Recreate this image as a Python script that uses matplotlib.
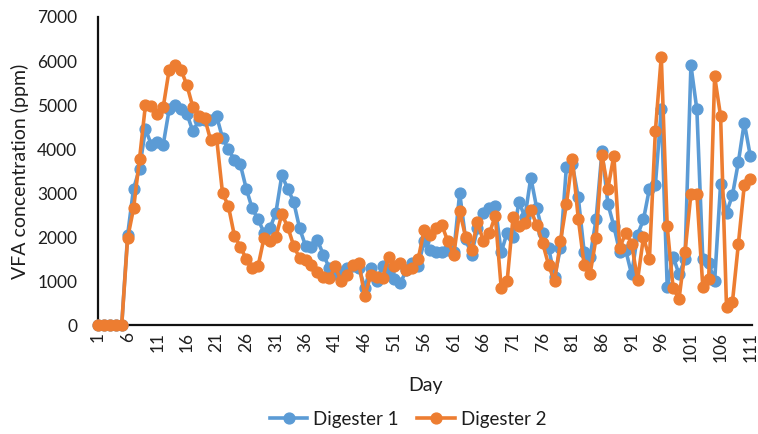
import matplotlib
matplotlib.use("Agg")
import matplotlib.pyplot as plt

plt.rcParams['font.family'] = ['Lato', 'DejaVu Sans']

days = list(range(1, 112))
tick_days = list(range(1, 112, 5))

digester_1 = [
    0, 0, 0, 0, 0, 2050, 3100, 3550, 4450, 4100,
    4150, 4100, 4900, 5000, 4900, 4800, 4400, 4650, 4650, 4650,
    4750, 4250, 4000, 3750, 3650, 3100, 2650, 2400, 2100, 2200,
    2550, 3400, 3100, 2800, 2200, 1800, 1780, 1930, 1600, 1300,
    1150, 1200, 1300, 1350, 1300, 850, 1300, 1000, 1350, 1200,
    1050, 950, 1250, 1400, 1350, 1900, 1700, 1650, 1650, 1700,
    1650, 3000, 1950, 1600, 2200, 2550, 2650, 2700, 1650, 2100,
    2000, 2800, 2450, 3350, 2650, 2100, 1750, 1100, 1750, 3600,
    3650, 2900, 1650, 1550, 2400, 3950, 2750, 2250, 1650, 1700,
    1150, 2050, 2400, 3100, 3180, 4900, 870, 1550, 1150, 1500,
    5900, 4900, 1500, 1400, 1000, 3200, 2550, 2950, 3700, 4600,
    3850,
]

digester_2 = [
    0, 0, 0, 0, 0, 1980, 2650, 3770, 5000, 4970,
    4800, 4950, 5800, 5920, 5800, 5450, 4950, 4750, 4700, 4200,
    4250, 3000, 2700, 2030, 1780, 1500, 1290, 1340, 1980, 1900,
    2000, 2520, 2230, 1800, 1520, 1480, 1360, 1210, 1100, 1060,
    1330, 1000, 1140, 1360, 1400, 650, 1140, 1100, 1060, 1550,
    1330, 1400, 1250, 1300, 1500, 2150, 2050, 2200, 2270, 1900,
    1600, 2580, 2010, 1700, 2350, 1900, 2080, 2480, 850, 990,
    2450, 2240, 2310, 2610, 2270, 1860, 1360, 990, 1900, 2750,
    3780, 2420, 1360, 1170, 1970, 3860, 3100, 3850, 1750, 2100,
    1850, 1020, 2000, 1500, 4400, 6100, 2240, 830, 600, 1660,
    2980, 2980, 870, 1050, 5650, 4750, 420, 520, 1840, 3180,
    3320,
]

blue = '#5B9BD5'
orange = '#ED7D31'
text_color = '#1e1e1e'

fig = plt.figure(figsize=(7.58, 4.34), dpi=100)
ax = fig.add_axes([98 / 758, 1 - 325 / 434, (752 - 98) / 758, (325 - 17) / 434])

ax.plot(days, digester_1, color=blue, lw=2.6, marker='o', ms=7.8,
        label='Digester 1', clip_on=False, zorder=3)
ax.plot(days, digester_2, color=orange, lw=2.6, marker='o', ms=7.8,
        label='Digester 2', clip_on=False, zorder=4)

ax.set_xlim(1, 111.3)
ax.set_ylim(0, 7000)
ax.set_yticks(range(0, 7001, 1000))
ax.set_xticks(tick_days)
ax.set_xticklabels([str(d) for d in tick_days], rotation=90, fontsize=12.5, color=text_color)
ax.tick_params(axis='y', labelsize=12.5, length=0, pad=15, labelcolor=text_color)
ax.tick_params(axis='x', length=0, pad=5)

for side in ('top', 'right'):
    ax.spines[side].set_visible(False)
for side in ('left', 'bottom'):
    ax.spines[side].set_color('#111111')
    ax.spines[side].set_linewidth(1.6)

ax.set_xlabel('Day', fontsize=14, color=text_color, labelpad=11)
ax.set_ylabel('VFA concentration (ppm)', fontsize=14, color=text_color, labelpad=6)

fig.legend(loc='center', bbox_to_anchor=(408 / 758, 1 - 419 / 434), ncol=2,
           frameon=False, fontsize=13.5, handlelength=2.0, columnspacing=1.0,
           handletextpad=0.3, labelcolor=text_color)

fig.savefig('out.png', dpi=100)
